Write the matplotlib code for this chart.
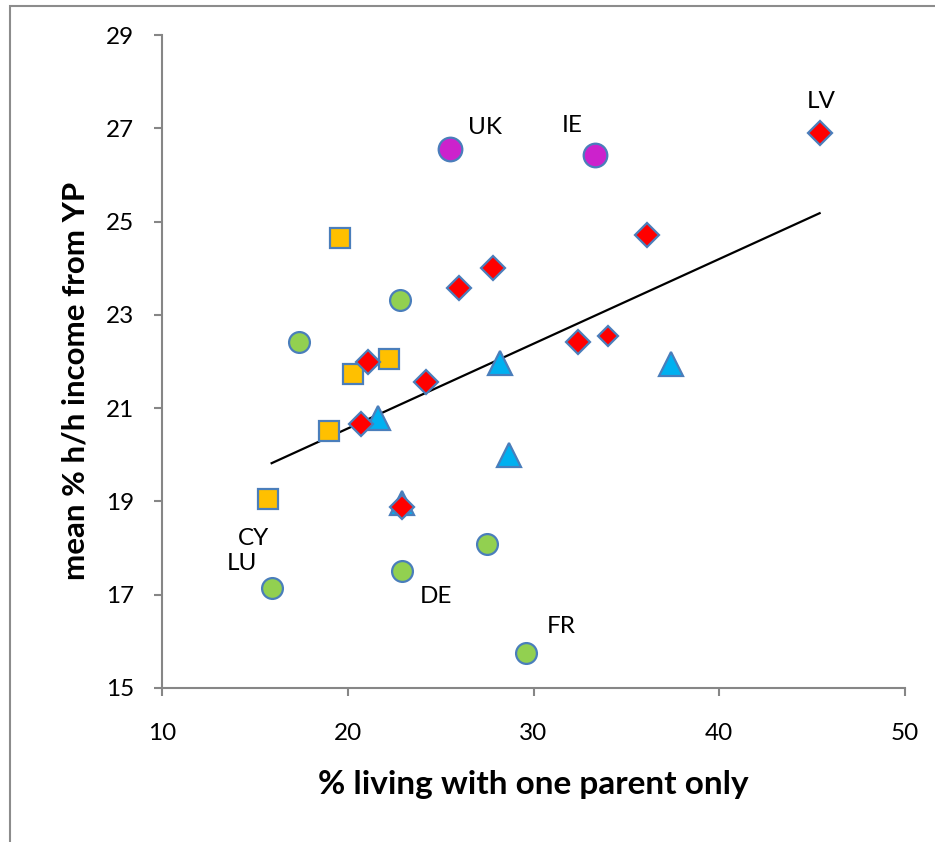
import numpy as np
import matplotlib
matplotlib.use("Agg")
import matplotlib.pyplot as plt
from matplotlib.patches import Rectangle

# groups of countries
green_x = [17.4, 22.8, 15.9, 22.9, 27.5, 29.6]
green_y = [22.42, 23.32, 17.14, 17.51, 18.09, 15.75]

magenta_x = [25.5, 33.3]
magenta_y = [26.56, 26.43]

orange_x = [19.6, 20.3, 22.2, 19.0, 15.7]
orange_y = [24.65, 21.73, 22.05, 20.51, 19.05]

red_x = [45.4, 36.1, 27.8, 26.0, 21.1, 24.2, 20.7, 32.4, 22.9]
red_y = [26.90, 24.71, 24.00, 23.58, 21.99, 21.56, 20.66, 22.42, 18.88]
small_red_x = [34.0]
small_red_y = [22.55]

blue_x = [21.6, 28.2, 37.4, 28.7, 22.9]
blue_y = [20.79, 21.97, 21.95, 19.99, 18.97]

# country labels
lab_text = ["UK", "IE", "LV", "CY", "LU", "DE", "FR"]
lab_x = [27.4, 32.1, 45.5, 14.9, 14.3, 24.75, 31.5]
lab_y = [27.01, 27.05, 27.58, 18.21, 17.66, 16.97, 16.31]

# trend line end points
trend_x = [15.9, 45.4]
trend_y = [19.82, 25.18]

plt.rcParams['font.family'] = ['Lato', 'DejaVu Sans']

fig = plt.figure(figsize=(9.35, 8.42), dpi=100)
ax = fig.add_axes([0.1733, 0.1829, 0.7947, 0.7755])

edge = "#4a7ebb"
ax.plot(green_x, green_y, "o", ms=15, mfc="#92d050", mec=edge, mew=1.6, ls="none", zorder=3)
ax.plot(magenta_x, magenta_y, "o", ms=17, mfc="#cc22cc", mec=edge, mew=1.6, ls="none", zorder=3)
ax.plot(orange_x, orange_y, "s", ms=14, mfc="#ffc000", mec=edge, mew=1.6, ls="none", zorder=3)
ax.plot(blue_x, blue_y, "^", ms=17, mfc="#00b0f0", mec=edge, mew=1.6, ls="none", zorder=3)
ax.plot(red_x, red_y, "D", ms=12.5, mfc="#ff0000", mec=edge, mew=1.6, ls="none", zorder=4)
ax.plot(small_red_x, small_red_y, "D", ms=10, mfc="#ff0000", mec=edge, mew=1.6, ls="none", zorder=4)
ax.plot(trend_x, trend_y, color="black", lw=1.6, zorder=2)

for t, x, y in zip(lab_text, lab_x, lab_y):
    ax.text(x, y, t, fontsize=17.5, ha="center", va="center")

ax.set_xlim(10, 50)
ax.set_ylim(15, 29)
ax.set_xticks([10, 20, 30, 40, 50])
ax.set_yticks([15, 17, 19, 21, 23, 25, 27, 29])
ax.tick_params(axis="both", colors="#868686", labelcolor="black", labelsize=17.5, length=6, width=1.5)
ax.tick_params(axis="y", pad=14)
ax.tick_params(axis="x", pad=19)
for s in ["top", "right"]:
    ax.spines[s].set_visible(False)
for s in ["left", "bottom"]:
    ax.spines[s].set_color("#868686")
    ax.spines[s].set_linewidth(1.5)

ax.set_xlabel("% living with one parent only", fontsize=24, fontweight="bold", labelpad=19)
ax.set_ylabel("mean % h/h income from YP", fontsize=22.5, fontweight="bold", labelpad=12)
ax.yaxis.label.set_y(0.47)

# outer chart frame (right and bottom cut off)
fig.patches.append(Rectangle((10 / 935, -0.1), 1.2, 1.1 - 6 / 842,
                             transform=fig.transFigure, fill=False,
                             edgecolor="#8c8c8c", lw=1.5))

fig.savefig("out.png", dpi=100)
